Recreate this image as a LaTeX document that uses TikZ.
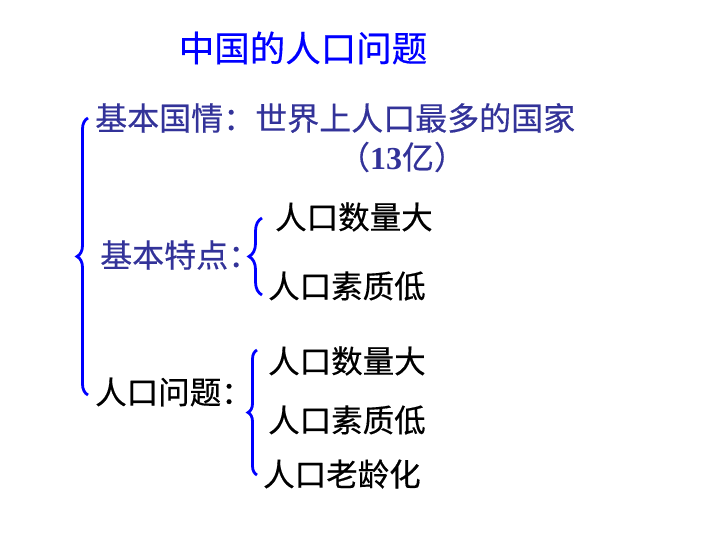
\documentclass[tikz,border=0pt]{standalone}
\usepackage{fontspec}
\setmainfont{Noto Sans CJK SC}[FakeBold=0.4]
\newfontfamily\numfont{Liberation Serif}
\usepackage{tikz}
\usetikzlibrary{decorations.pathreplacing}
\definecolor{headblue}{RGB}{0,0,255}
\definecolor{textblue}{RGB}{51,51,153}
\tikzset{
    headtext/.style={text=headblue, font=\fontsize{35.5}{36}\selectfont, inner sep=0pt},
    bluetext/.style={text=textblue, font=\fontsize{32}{32}\selectfont, inner sep=0pt, anchor=west},
    blacktext/.style={text=black, font=\fontsize{31.5}{32}\selectfont, inner sep=0pt, anchor=west},
    kuohao/.style={draw=blue, line width=2.8pt, decorate, decoration={brace, amplitude=#1}}}

\begin{document}
\begin{tikzpicture}[x=1pt,y=-1pt]
        \useasboundingbox (0,0) rectangle (720,540);

            \node[headtext] (T) at (303,48) {中国的人口问题};

            \node[bluetext] (Q) at (95,118) {基本国情：世界上人口最多的国家};
            \node[bluetext, anchor=center] (Q1) at (402,157) {（{\numfont\bfseries 13}亿）};

            \node[bluetext] (P) at (100,255) {基本特点：};
            \node[blacktext] (P1) at (275,217) {人口数量大};
            \node[blacktext] (P2) at (268,286) {人口素质低};

            \node[blacktext] (W) at (95,392) {人口问题：};
            \node[blacktext] (W1) at (268,361) {人口数量大};
            \node[blacktext] (W2) at (268,420) {人口素质低};
            \node[blacktext] (W3) at (263,474) {人口老龄化};

            \coordinate (K1s) at (88,395);
            \coordinate (K1e) at (88,118);
            \coordinate (K2s) at (262,295);
            \coordinate (K2e) at (262,218);
            \coordinate (K3s) at (257,475);
            \coordinate (K3e) at (257,350);

            \draw[kuohao=11pt] (K1s) -- (K1e);
            \draw[kuohao=13pt] (K2s) -- (K2e);
            \draw[kuohao=9pt] (K3s) -- (K3e);

        \end{tikzpicture}
\end{document}
